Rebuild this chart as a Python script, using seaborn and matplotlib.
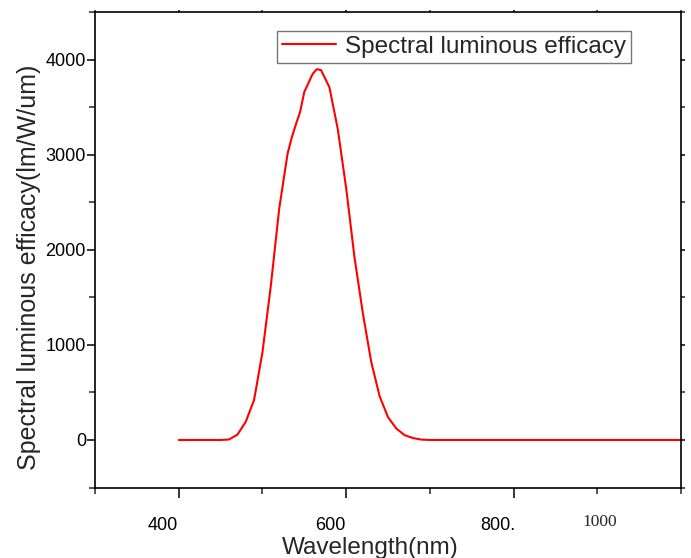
import matplotlib
matplotlib.use('Agg')
import matplotlib.pyplot as plt
import matplotlib.transforms as mtransforms
from matplotlib.ticker import MultipleLocator
import seaborn as sns
import pandas as pd

# values
wavelength = [400, 410, 420, 430, 440, 450, 460, 470, 480, 490, 500, 510, 520, 530, 535,
              540, 545, 550, 560, 565, 570, 580, 590, 600, 610, 620, 630, 640, 650, 660,
              670, 680, 690, 700, 750, 800, 850, 900, 950, 1000]
efficacy = [0, 0, 0, 0, 0, 0, 5, 55, 190, 420, 920, 1620, 2430, 3010, 3180,
            3320, 3450, 3660, 3850, 3900, 3890, 3710, 3270, 2650, 1920, 1330, 820, 460, 240, 120,
            50, 20, 4, 0, 0, 0, 0, 0, 0, 0]

x_ticks = [400, 600, 800]
x_tick_labels = ['400', '600', '800.']
y_ticks = [0, 1000, 2000, 3000, 4000]

df = pd.DataFrame({'Wavelength': wavelength, 'Efficacy': efficacy})

sns.set_style('ticks')
plt.rcParams['font.family'] = ['Liberation Sans', 'DejaVu Sans']
plt.rcParams['axes.linewidth'] = 1.2

fig = plt.figure(figsize=(6.91, 5.58), dpi=100)
ax = fig.add_axes([0.1375, 0.1263, 0.848, 0.852])

sns.lineplot(data=df, x='Wavelength', y='Efficacy', color='red', linewidth=1.5,
             label='Spectral luminous efficacy', ax=ax)

ax.set_xlim(300, 1000)
ax.set_ylim(-500, 4500)
ax.set_xticks(x_ticks)
ax.set_xticklabels(x_tick_labels)
ax.xaxis.set_minor_locator(MultipleLocator(100))
ax.set_yticks(y_ticks)
ax.yaxis.set_minor_locator(MultipleLocator(500))

for s in ax.spines.values():
    s.set_visible(True)
    s.set_color('black')

ax.tick_params(axis='both', which='major', direction='out', length=6, width=1.1,
               labelsize=13, colors='black', pad=0.5)
ax.tick_params(axis='both', which='minor', direction='out', length=4, width=1.1)
ax.tick_params(axis='x', which='major', length=7, pad=14)
ax.tick_params(axis='x', which='both', top=True)
ax.tick_params(axis='y', which='both', right=True)
# the top and right ticks are only small stubs
for t in ax.xaxis.get_major_ticks() + ax.xaxis.get_minor_ticks():
    t.tick2line.set_markersize(1.5)
for t in ax.yaxis.get_major_ticks() + ax.yaxis.get_minor_ticks():
    t.tick2line.set_markersize(3)

# x tick labels sit a bit left of their ticks in the reference
offset = mtransforms.ScaledTranslation(-16 / 100, 0, fig.dpi_scale_trans)
for lab in ax.get_xticklabels():
    lab.set_transform(lab.get_transform() + offset)

# the odd serif "1000" label
ax.text(903, -0.055, '1000', transform=ax.get_xaxis_transform(), ha='center', va='top',
        fontsize=12.5, family='Liberation Serif')

ax.set_xlabel('Wavelength(nm)', fontsize=17.5)
ax.xaxis.set_label_coords(0.469, -0.104)
ax.set_ylabel('Spectral luminous efficacy(lm/W/um)', fontsize=18)
ax.yaxis.set_label_coords(-0.092, 0.464)

leg = ax.legend(loc='upper left', bbox_to_anchor=(0.311, 0.96), fontsize=17.5,
                frameon=True, fancybox=False, handlelength=2.2, handletextpad=0.4,
                borderpad=0.2, borderaxespad=0)
leg.get_frame().set_edgecolor('#555555')
leg.get_frame().set_linewidth(1.0)

fig.savefig('out.png', dpi=100)
